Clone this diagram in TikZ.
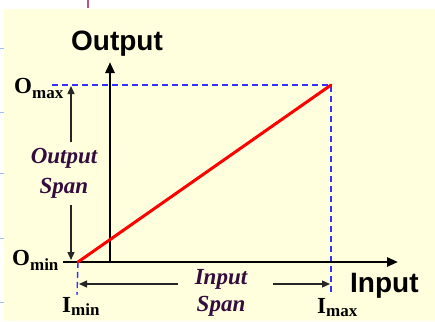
\documentclass[tikz,border=0pt]{standalone}
\usepackage{fontspec}
\setmainfont{Liberation Serif}
\newfontfamily\labsans{Liberation Sans}
\usepackage{tikz}
\usetikzlibrary{arrows.meta, positioning, calc}

\definecolor{paper}{RGB}{255,255,222}
\definecolor{spancol}{RGB}{52,12,62}
\definecolor{guide}{RGB}{50,50,250}
\definecolor{edgepink}{RGB}{190,80,130}
\definecolor{edgeblue}{RGB}{150,190,240}

% limit label: big bold letter with lowered subscript
\newcommand{\limlab}[3][5pt]{{\fontsize{23}{23}\selectfont\bfseries #2}%
  {\fontsize{17}{17}\selectfont\bfseries\raisebox{-#1}{#3}}}

\begin{document}
\begin{tikzpicture}[
  x=1pt, y=-1pt,
  axis/.style={line width=2.6pt, -{Triangle[length=11pt,width=9pt]}},
  spanarr/.style={line width=1.3pt, draw=black!85, -{Triangle[length=8pt,width=7pt]}},
  guideline/.style={draw=guide, line width=1.4pt, dash pattern=on 6pt off 4pt},
  response/.style={draw=red, line width=3pt, line cap=round},
  limit/.style={inner sep=0pt, anchor=base west, text=black},
  axlab/.style={inner sep=0pt, font=\labsans\bfseries\fontsize{28}{28}\selectfont},
  spantext/.style={inner sep=0pt, align=center, text=spancol,
                   font=\bfseries\itshape\fontsize{23}{27}\selectfont}
]
\useasboundingbox (0,0) rectangle (435,321);
\fill[white] (0,0) rectangle (435,321);
\fill[paper] (4,9) rectangle (435,321);
% edge marks
\draw[edgepink, line width=1.5pt] (88,0) -- (88,8);
\foreach \ty in {48,112,173,238,302}
  \draw[edgeblue, line width=1pt] (0,\ty) -- (4,\ty);

% key points
\coordinate (xs)   at (63,262);
\coordinate (xe)   at (398,262);
\coordinate (yo)   at (110,262);
\coordinate (ye)   at (110,62);
\coordinate (pmin) at (78,262);
\coordinate (pmax) at (331,85);
\coordinate (omaxl) at (52,85);
\coordinate (imaxb) at (331,294);
\coordinate (iminb) at (77,295);

% guides
\draw[guideline] (omaxl) -- (pmax) -- (imaxb);
\draw[guideline] (pmin) -- (iminb);

% axes
\draw[axis] (xs) -- (xe);
\draw[axis] (yo) -- (ye);

% response line
\draw[response] (pmin) -- (pmax);

% labels
\node[axlab, anchor=base] (outlab) at (117,50) {Output};
\node[axlab, anchor=base west] (inlab) at (350,292) {Input};
\node[limit] (omax) at (14,93)  {\limlab{O}{max}};
\node[limit] (omin) at (12,265) {\limlab{O}{min}};
\node[limit] (imin) at (62,312) {\limlab[3.5pt]{I}{min}};
\node[limit] (imax) at (317,313) {\limlab[3.5pt]{I}{max}};

\node[spantext] (outspan) at (64,173) {Output\\[3pt]Span};
\node[spantext] (inspan)  at (221,293) {Input\\Span};

% span arrows
\coordinate (osu) at (71,142);
\coordinate (ost) at (71,86);
\coordinate (osd) at (71,205);
\coordinate (osb) at (71,260);
\coordinate (isl) at (178,284);
\coordinate (ilt) at (79,284);
\coordinate (isr) at (273,284);
\coordinate (irt) at (330,284);
\draw[spanarr] (osu) -- (ost);
\draw[spanarr] (osd) -- (osb);
\draw[spanarr] (isl) -- (ilt);
\draw[spanarr] (isr) -- (irt);
\end{tikzpicture}
\end{document}
